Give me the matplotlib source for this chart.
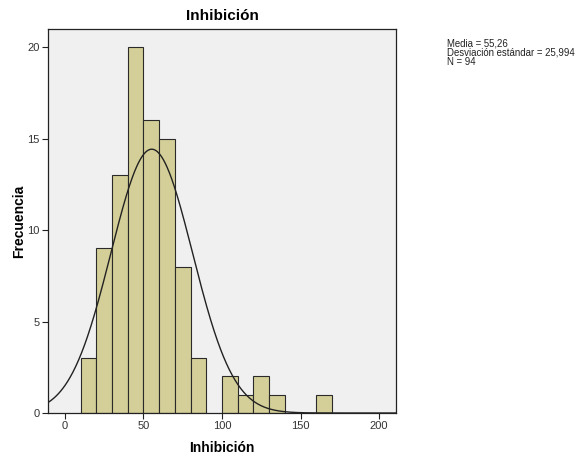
import numpy as np
import matplotlib
matplotlib.use("Agg")
import matplotlib.pyplot as plt

plt.rcParams['font.family'] = ['Liberation Sans', 'DejaVu Sans']

bin_edges = [10, 20, 30, 40, 50, 60, 70, 80, 90, 100, 110, 120, 130, 140, 150, 160, 170]
counts = [3, 9, 13, 20, 16, 15, 8, 3, 0, 2, 1, 2, 1, 0, 0, 1]
mean = 55.26
sd = 25.994
n = 94
bin_width = 10
x_ticks = [0, 50, 100, 150, 200]
y_ticks = [0, 5, 10, 15, 20]

fig = plt.figure(figsize=(5.81, 4.59), dpi=100)
ax = fig.add_axes([48/581, 1-413/459, (396-48)/581, (413-29)/459])
ax.set_facecolor('#F0F0F0')

lefts = bin_edges[:-1]
for l, c in zip(lefts, counts):
    if c > 0:
        ax.bar(l, c, width=bin_width, align='edge', color='#D4CF98',
               edgecolor='#2a2a2a', linewidth=0.8, zorder=2)

xmin, xmax = -10.8, 210.8
xs = np.linspace(xmin, xmax, 600)
ys = n * bin_width / (sd * np.sqrt(2 * np.pi)) * np.exp(-0.5 * ((xs - mean) / sd) ** 2)
ax.plot(xs, ys, color='#222222', linewidth=1.0, zorder=3)

ax.set_xlim(xmin, xmax)
ax.set_ylim(0, 21)
ax.set_xticks(x_ticks)
ax.set_yticks(y_ticks)
ax.tick_params(labelsize=8, length=4, width=0.8, colors='#222222', labelcolor='#333333', pad=2)
for s in ax.spines.values():
    s.set_color('#222222')
    s.set_linewidth(0.9)

fig.text(222/581, 1-16/459, 'Inhibición', fontsize=11, fontweight='bold', ha='center', va='center')
fig.text(222/581, 1-448/459, 'Inhibición', fontsize=10, fontweight='bold', ha='center', va='center')
fig.text(19/581, 1-221/459, 'Frecuencia', fontsize=10, fontweight='bold', ha='center', va='center', rotation=90)

fig.text(447/581, 1-38/459, 'Media = 55,26\nDesviación estándar = 25,994\nN = 94',
         fontsize=6.9, va='top', ha='left', linespacing=0.95, color='#222222')

fig.savefig('out.png', dpi=100)
